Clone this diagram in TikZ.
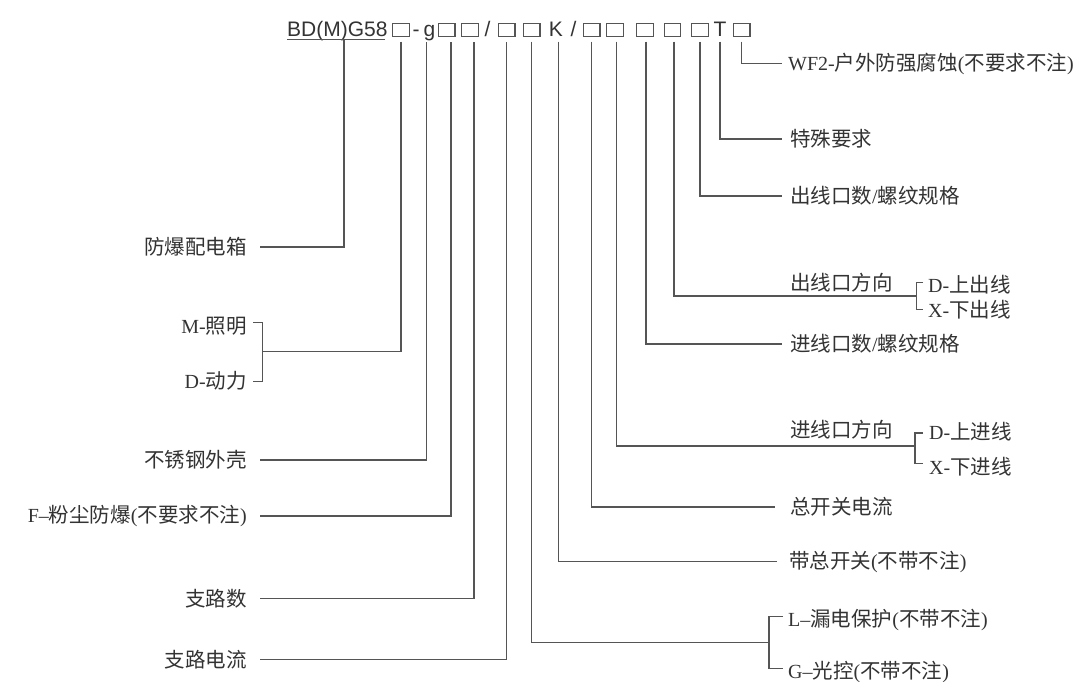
\documentclass[tikz,border=0pt]{standalone}
\usepackage{fontspec}
\setmainfont{Liberation Serif}
\newfontfamily\cjk{Noto Sans CJK SC}
\newfontfamily\codefont{Liberation Sans}
\definecolor{txt}{HTML}{333333}
\definecolor{ln}{HTML}{555555}
\newcommand\zh[1]{{\cjk\fontsize{20.5}{24}\selectfont #1}}
\tikzset{
  lbl/.style={inner sep=0pt, text=txt, font=\fontsize{20}{23}\selectfont},
  lblL/.style={lbl, anchor=east},
  lblR/.style={lbl, anchor=west},
  conn/.style={draw=ln, line width=1.3pt},
  sq/.style={draw=ln, line width=1.1pt, minimum width=16.5pt, minimum height=13pt, inner sep=0pt},
  code/.style={inner sep=0pt, text=txt, font=\codefont\fontsize{21}{24}\selectfont, anchor=base},
}
\begin{document}
\begin{tikzpicture}[x=1pt,y=-1pt]
\useasboundingbox (0,0) rectangle (1084,681);
\fill[white] (0,0) rectangle (1084,681);

% ---- code line ----
\node[code, anchor=base west] (bd) at (287,36.5) {BD(M)G58};
\draw[conn, line width=1pt] ([yshift=-2.8pt]bd.base west) -- ([yshift=-2.8pt,xshift=-3pt]bd.base east);
\coordinate (t0) at (344,39.3);
\coordinate (top) at (0,41.7);
\node[sq] (b1) at (401,30) {};
\node[code] (hy) at (416,36.5) {-};
\node[code] (g) at (429.5,36.5) {g};
\node[sq] (b2) at (446.7,30) {};
\node[sq] (b3) at (470,30) {};
\node[code] (s1) at (487.5,36.5) {/};
\node[sq] (b4) at (506.7,30) {};
\node[sq] (b5) at (531.7,30) {};
\node[code] (K) at (555.8,36.5) {K};
\node[code] (s2) at (573.5,36.5) {/};
\node[sq] (b6) at (591.7,30) {};
\node[sq] (b7) at (615,30) {};
\node[sq] (b8) at (645,30) {};
\node[sq] (b9) at (672.3,30) {};
\node[sq] (b10) at (700,30) {};
\node[code] (T) at (720,36.5) {T};
\node[sq] (b11) at (741.7,30) {};

% ---- left labels ----
\node[lblL] (l1) at (247,247) {\zh{防爆配电箱}};
\node[lblL] (lM) at (247,326.5) {M-\zh{照明}};
\node[lblL] (lD) at (247,380.5) {D-\zh{动力}};
\node[lblL] (l3) at (247,460) {\zh{不锈钢外壳}};
\node[lblL] (l4) at (247,516) {F–\zh{粉尘防爆}(\zh{不要求不注})};
\node[lblL] (l5) at (247,598.5) {\zh{支路数}};
\node[lblL] (l6) at (247,659.5) {\zh{支路电流}};

% ---- right labels ----
\node[lblR] (rW) at (788,63.5) {WF2-\zh{户外防强腐蚀}(\zh{不要求不注})};
\node[lblR] (rT) at (790,139) {\zh{特殊要求}};
\node[lblR] (r10) at (790,196) {\zh{出线口数}/\zh{螺纹规格}};
\node[lblR] (r9) at (790,283) {\zh{出线口方向}};
\node[lblR] (oD) at (928,285) {D-\zh{上出线}};
\node[lblR] (oX) at (928,310) {X-\zh{下出线}};
\node[lblR] (r8) at (790,344) {\zh{进线口数}/\zh{螺纹规格}};
\node[lblR] (r7) at (790,430) {\zh{进线口方向}};
\node[lblR] (iD) at (929,432) {D-\zh{上进线}};
\node[lblR] (iX) at (929,467) {X-\zh{下进线}};
\node[lblR] (r6) at (790,507) {\zh{总开关电流}};
\node[lblR] (rK) at (789,561.5) {\zh{带总开关}(\zh{不带不注})};
\node[lblR] (gL) at (788,620) {L–\zh{漏电保护}(\zh{不带不注})};
\node[lblR] (gG) at (788,671.5) {G–\zh{光控}(\zh{不带不注})};

% ---- bracket coordinates ----
\coordinate (mdT) at (262.7,322.7);
\coordinate (mdM) at (262.7,351.7);
\coordinate (mdB) at (262.7,381.7);
\coordinate (oT) at (916.7,282.7);
\coordinate (oM) at (916.7,296);
\coordinate (oB) at (916.7,309.3);
\coordinate (iT) at (915,433);
\coordinate (iM) at (915,446);
\coordinate (iB) at (915,463.3);
\coordinate (gT) at (769,616.7);
\coordinate (gM) at (769,642.3);
\coordinate (gB) at (769,668.3);

% ---- left connectors ----
\draw[conn] ([xshift=13pt]l1.east) -| (t0);
\draw[conn] (b1 |- top) |- (mdM);
\draw[conn] ([xshift=6pt]lM.east |- mdT) -- (mdT) -- (mdB) -- ([xshift=6pt]lD.east |- mdB);
\draw[conn] ([xshift=13pt]l3.east) -| ([xshift=-2.8pt]g.base |- top);
\draw[conn] ([xshift=13pt]l4.east) -| ([xshift=4.3pt]b2.south |- top);
\draw[conn] ([xshift=13pt]l5.east) -| ([xshift=4pt]b3.south |- top);
\draw[conn] ([xshift=13pt]l6.east) -| (b4 |- top);

% ---- right connectors ----
\draw[conn] (b5 |- top) |- (gM);
\draw[conn] ([xshift=-5pt]gL.west |- gT) -- (gT) -- (gB) -- ([xshift=-5pt]gG.west |- gB);
\draw[conn] ([xshift=2.5pt]K.base |- top) |- ([xshift=-12pt]rK.west);
\draw[conn] (b6 |- top) |- ([xshift=-15pt]r6.west);
\draw[conn] ([xshift=1.7pt]b7.south |- top) |- (iM);
\draw[conn] ([xshift=-6pt]iD.west |- iT) -- (iT) -- (iB) -- ([xshift=-6pt]iX.west |- iB);
\draw[conn] ([xshift=1pt]b8.south |- top) |- ([xshift=-8pt]r8.west);
\draw[conn] ([xshift=1.7pt]b9.south |- top) |- (oM);
\draw[conn] ([xshift=-5pt]oD.west |- oT) -- (oT) -- (oB) -- ([xshift=-5pt]oX.west |- oB);
\draw[conn] (b10 |- top) |- ([xshift=-8pt]r10.west);
\draw[conn] (T |- top) |- ([xshift=-8pt]rT.west);
\draw[conn] (b11 |- top) |- ([xshift=-6pt]rW.west);
\end{tikzpicture}
\end{document}
